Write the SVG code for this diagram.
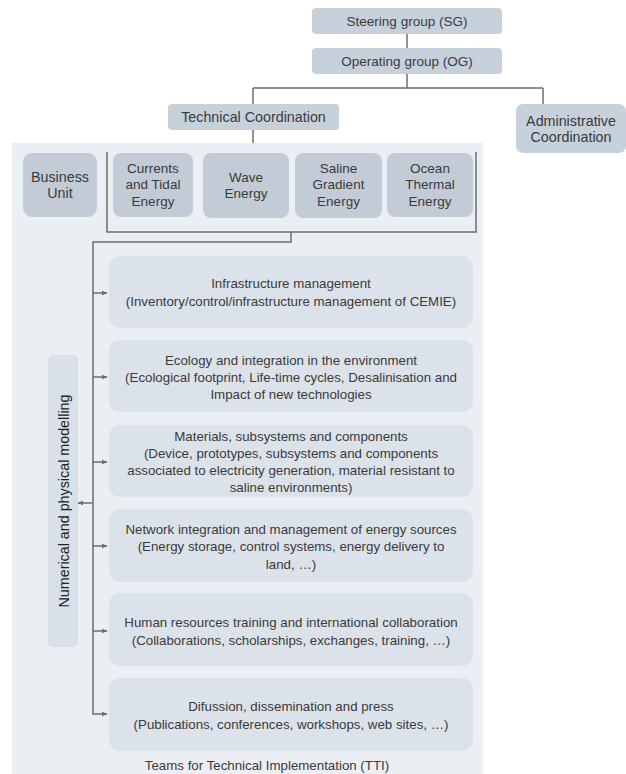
<svg xmlns="http://www.w3.org/2000/svg" width="626" height="774" viewBox="0 0 626 774">
<defs>
<style>
text{font-family:"Liberation Sans",Arial,sans-serif;font-size:13.3px;fill:#3a3a3a;text-anchor:middle;dominant-baseline:central}
.big{font-size:14.3px}
.mid{font-size:13.5px}
.top{fill:#c7d1dc}
.unit{fill:#c3ccd6}
.item{fill:#dce2e9}
.conn{stroke:#6e6e6e;stroke-width:1.5;fill:none}
</style>
<marker id="ah" viewBox="0 0 10 10" refX="9" refY="5" markerWidth="6" markerHeight="6" orient="auto" markerUnits="userSpaceOnUse">
<path d="M0,1 L10,5 L0,9 z" fill="#6e6e6e"/>
</marker>
</defs>
<rect width="626" height="774" fill="#ffffff"/>
<rect id="panel" x="12" y="143" width="471" height="631" fill="#ebeff4"/>

<g id="connectors">
<path class="conn" d="M407,34 V48"/>
<path class="conn" d="M407,74 V88 M253,88 H543 M253,88 V104 M543,88 V104"/>
<path class="conn" d="M253,130 V143"/>
<path class="conn" d="M107,152 V232 H476 V152"/>
<path class="conn" d="M291,232 V242 H93 V714 H107" marker-end="url(#ah)"/>
<path class="conn" d="M93,293 H107" marker-end="url(#ah)"/>
<path class="conn" d="M93,377 H107" marker-end="url(#ah)"/>
<path class="conn" d="M93,462 H107" marker-end="url(#ah)"/>
<path class="conn" d="M93,546 H107" marker-end="url(#ah)"/>
<path class="conn" d="M93,631 H107" marker-end="url(#ah)"/>
<path class="conn" d="M93,503 H78" marker-end="url(#ah)"/>
</g>

<g id="sg"><rect class="top" x="312" y="8" width="190" height="26" rx="4"/><text class="mid" x="407" y="21">Steering group (SG)</text></g>
<g id="og"><rect class="top" x="312" y="48" width="190" height="26" rx="4"/><text class="mid" x="407" y="61">Operating group (OG)</text></g>
<g id="tech"><rect class="top" x="168" y="104" width="171" height="26" rx="4"/><text class="big" x="253.5" y="117">Technical Coordination</text></g>
<g id="admin"><rect class="top" x="516" y="104" width="110" height="49" rx="7"/><text class="big" x="571" y="121">Administrative</text><text class="big" x="571" y="137">Coordination</text></g>

<g id="business"><rect class="unit" x="23" y="153" width="74" height="64" rx="9"/><text class="big" x="60" y="177">Business</text><text class="big" x="60" y="193">Unit</text></g>
<g id="currents"><rect class="unit" x="113" y="153" width="80" height="64" rx="8"/><text class="mid" x="153" y="168">Currents</text><text class="mid" x="153" y="184">and Tidal</text><text class="mid" x="153" y="201">Energy</text></g>
<g id="wave"><rect class="unit" x="203" y="153" width="86" height="65" rx="8"/><text class="mid" x="246" y="177">Wave</text><text class="mid" x="246" y="193">Energy</text></g>
<g id="saline"><rect class="unit" x="295" y="153" width="87" height="65" rx="8"/><text class="mid" x="338.5" y="168">Saline</text><text class="mid" x="338.5" y="184">Gradient</text><text class="mid" x="338.5" y="201">Energy</text></g>
<g id="ocean"><rect class="unit" x="387" y="153" width="86" height="64" rx="8"/><text class="mid" x="430" y="168">Ocean</text><text class="mid" x="430" y="184">Thermal</text><text class="mid" x="430" y="201">Energy</text></g>

<g id="numerical"><rect x="48" y="355" width="30" height="292" rx="5" fill="#d9e0e7"/><text class="big" transform="translate(64,501) rotate(-90)" x="0" y="0" style="fill:#222222">Numerical and physical modelling</text></g>

<g id="infra"><rect class="item" x="109" y="256" width="364" height="72" rx="11"/><text x="291" y="283">Infrastructure management</text><text x="291" y="301">(Inventory/control/infrastructure management of CEMIE)</text></g>
<g id="ecology"><rect class="item" x="109" y="340" width="364" height="72" rx="11"/><text x="291" y="360">Ecology and integration in the environment</text><text x="291" y="377">(Ecological footprint, Life-time cycles, Desalinisation and</text><text x="291" y="394">Impact of new technologies</text></g>
<g id="materials"><rect class="item" x="109" y="425" width="364" height="72" rx="11"/><text x="291" y="436">Materials, subsystems and components</text><text x="291" y="453">(Device, prototypes, subsystems and components</text><text x="291" y="470">associated to electricity generation, material resistant to</text><text x="291" y="487">saline environments)</text></g>
<g id="network"><rect class="item" x="109" y="509" width="364" height="73" rx="11"/><text x="291" y="529">Network integration and management of energy sources</text><text x="291" y="546">(Energy storage, control systems, energy delivery to</text><text x="291" y="564">land, …)</text></g>
<g id="human"><rect class="item" x="109" y="593" width="364" height="73" rx="11"/><text x="291" y="622">Human resources training and international collaboration</text><text x="291" y="640">(Collaborations, scholarships, exchanges, training, …)</text></g>
<g id="difussion"><rect class="item" x="109" y="678" width="364" height="73" rx="11"/><text x="291" y="706">Difussion, dissemination and press</text><text x="291" y="724">(Publications, conferences, workshops, web sites, …)</text></g>

<text id="tti" x="267" y="765">Teams for Technical Implementation (TTI)</text>
</svg>
